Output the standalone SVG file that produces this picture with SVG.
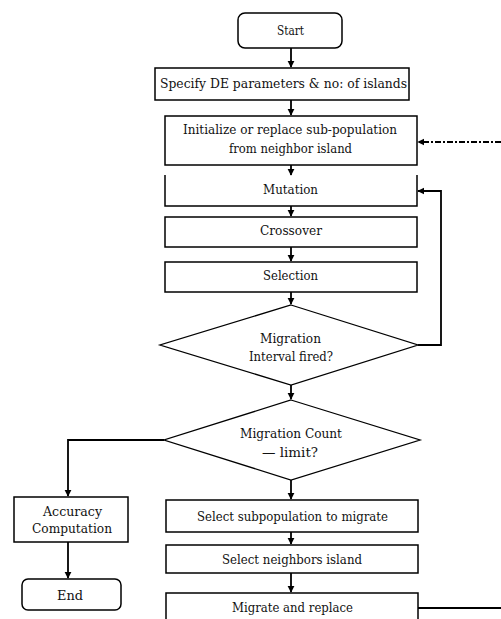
<svg xmlns="http://www.w3.org/2000/svg" width="501" height="619" viewBox="0 0 501 619">
<style>
.b{fill:#fff;stroke:#000;stroke-width:1.5}
.d{fill:#fff;stroke:#000;stroke-width:1.3}
.t{font-family:'DejaVu Serif','Liberation Serif',serif;font-size:12px;fill:#111;text-anchor:middle}
.c{fill:none;stroke:#000;stroke-width:1.8}
</style>
<defs>
<marker id="a" viewBox="0 0 10 10" refX="9" refY="5" markerWidth="4" markerHeight="4" orient="auto" markerUnits="strokeWidth">
<path d="M0,0 L10,5 L0,10 z" fill="#000"/>
</marker>
</defs>
<rect width="501" height="619" fill="#fff"/>
<g id="start"><rect class="b" x="238" y="13" width="104" height="35" rx="7"/><text class="t" x="290.5" y="35" textLength="27" lengthAdjust="spacingAndGlyphs">Start</text></g>
<g id="specify"><rect class="b" x="155" y="68" width="254" height="32"/><text class="t" x="283.5" y="88" textLength="247" lengthAdjust="spacingAndGlyphs">Specify DE parameters &amp; no: of islands</text></g>
<g id="init"><rect class="b" x="165" y="116" width="252" height="49"/><text class="t" x="290" y="134" textLength="214" lengthAdjust="spacingAndGlyphs">Initialize  or replace sub-population</text><text class="t" x="290.5" y="153" textLength="123" lengthAdjust="spacingAndGlyphs">from neighbor island</text></g>
<g id="mutation"><path class="b" d="M165,175 V206 H417 V175"/><text class="t" x="290.5" y="194" textLength="55" lengthAdjust="spacingAndGlyphs">Mutation</text></g>
<g id="crossover"><rect class="b" x="165" y="217" width="252" height="30"/><text class="t" x="291" y="235" textLength="62" lengthAdjust="spacingAndGlyphs">Crossover</text></g>
<g id="selection"><rect class="b" x="165" y="262" width="252" height="30"/><text class="t" x="290.5" y="280" textLength="55" lengthAdjust="spacingAndGlyphs">Selection</text></g>
<g id="dec1"><polygon class="d" points="291,305 418,345 291,385 160,345"/><text class="t" x="290.5" y="343" textLength="61" lengthAdjust="spacingAndGlyphs">Migration</text><text class="t" x="291" y="361" textLength="84" lengthAdjust="spacingAndGlyphs">Interval  fired?</text></g>
<g id="dec2"><polygon class="d" points="291,400 420,440 291,480 164,440"/><text class="t" x="291" y="438" textLength="102" lengthAdjust="spacingAndGlyphs">Migration  Count</text><text class="t" x="290" y="457" textLength="56" lengthAdjust="spacingAndGlyphs">— limit?</text></g>
<g id="accuracy"><rect class="b" x="14" y="497" width="114" height="45"/><text class="t" x="72.5" y="516" textLength="59" lengthAdjust="spacingAndGlyphs">Accuracy</text><text class="t" x="72" y="533" textLength="80" lengthAdjust="spacingAndGlyphs">Computation</text></g>
<g id="end"><rect class="b" x="22" y="579" width="99" height="31" rx="6"/><text class="t" x="70" y="600" textLength="26" lengthAdjust="spacingAndGlyphs">End</text></g>
<g id="selsub"><rect class="b" x="166" y="500" width="252" height="32"/><text class="t" x="292.5" y="521" textLength="191" lengthAdjust="spacingAndGlyphs">Select subpopulation to migrate</text></g>
<g id="selnb"><rect class="b" x="166" y="545" width="252" height="28"/><text class="t" x="292" y="564" textLength="140" lengthAdjust="spacingAndGlyphs">Select neighbors island</text></g>
<g id="migrate"><rect class="b" x="166" y="593" width="252" height="40"/><text class="t" x="292.5" y="612" textLength="121" lengthAdjust="spacingAndGlyphs">Migrate and replace</text></g>
<g id="connectors">
<line class="c" x1="291" y1="48" x2="291" y2="67" marker-end="url(#a)"/>
<line class="c" x1="291" y1="100" x2="291" y2="115" marker-end="url(#a)"/>
<line class="c" x1="291" y1="165" x2="291" y2="175" marker-end="url(#a)"/>
<line class="c" x1="291" y1="206" x2="291" y2="216" marker-end="url(#a)"/>
<line class="c" x1="291" y1="247" x2="291" y2="261" marker-end="url(#a)"/>
<line class="c" x1="291" y1="292" x2="291" y2="304" marker-end="url(#a)"/>
<polyline class="c" points="418,345 441,345 441,191 418,191" marker-end="url(#a)"/>
<line class="c" x1="291" y1="385" x2="291" y2="399" marker-end="url(#a)"/>
<polyline class="c" points="164,440 68,440 68,496" marker-end="url(#a)"/>
<line class="c" x1="68" y1="542" x2="68" y2="578" marker-end="url(#a)"/>
<line class="c" x1="291" y1="480" x2="291" y2="499" marker-end="url(#a)"/>
<line class="c" x1="291" y1="532" x2="291" y2="544" marker-end="url(#a)"/>
<line class="c" x1="291" y1="573" x2="291" y2="592" marker-end="url(#a)"/>
<line class="c" x1="418" y1="608" x2="501" y2="608"/>
<line class="c" x1="501" y1="142" x2="418" y2="142" stroke-dasharray="6,2,2,2" marker-end="url(#a)"/>
</g>
</svg>
